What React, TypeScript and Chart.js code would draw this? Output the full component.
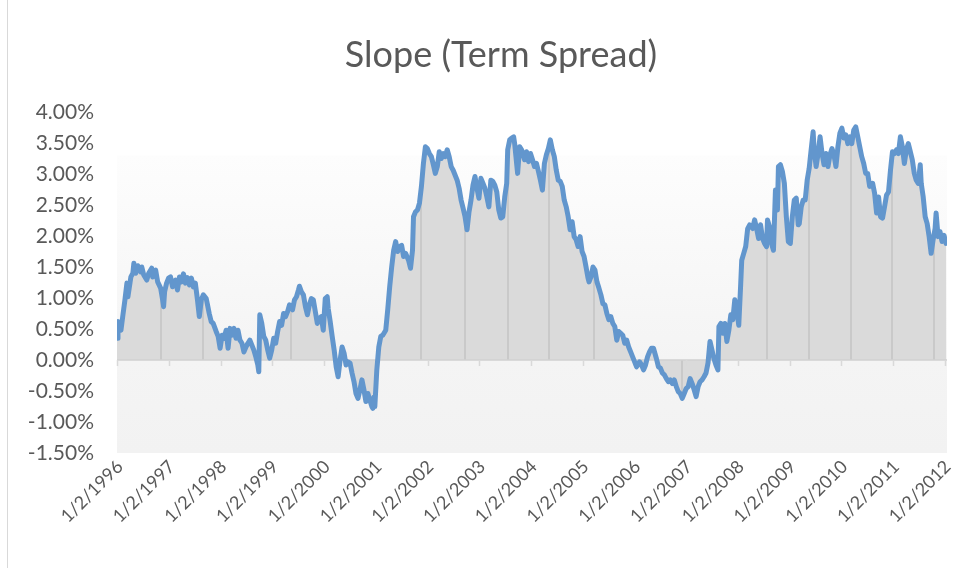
import React, { useEffect, useRef } from "react";
import { Chart, registerables } from "chart.js";

Chart.register(...registerables);

// Week offset from 1/2/1996 for each weekly observation
const weeks: number[] = [
  0, 1, 4, 6, 8, 10, 11, 14, 16, 17, 19, 21, 24, 25, 27, 30, 32, 35, 36, 39, 41, 44, 46, 47, 48, 50, 52, 54, 56,
  59, 61, 63, 65, 67, 69, 71, 73, 75, 77, 79, 81, 83, 85, 87, 90, 91, 93, 95, 97, 100, 102, 104, 106, 108, 110,
  112, 114, 116, 118, 120, 122, 124, 126, 128, 130, 132,
  134, 136, 138, 140, 142, 143, 144, 146, 148, 150, 152, 154, 156, 158, 160, 162, 164, 166, 168, 170, 172, 174,
  177, 179, 181, 183, 184, 186, 188, 190, 192, 194, 196, 198, 200, 202, 204, 206, 208, 210, 212, 213, 215, 217,
  219, 221, 223, 225, 227, 229, 231, 233, 235, 237, 239, 241, 243, 245, 247, 249, 251, 253, 255, 257, 258, 259,
  260, 262, 264, 266, 268,
  271, 273, 275, 277, 279, 281, 283, 285, 287, 289, 291, 294, 296, 298, 299, 301, 303, 305, 307, 309, 311, 313,
  315, 317, 319, 321, 323, 325, 327, 329, 331, 333, 335, 337, 339, 341, 343, 345, 347, 349, 351, 353, 355, 357,
  359, 361, 363, 365, 367, 369, 371, 373, 375, 377, 379, 381, 383, 385, 387, 389, 391, 393, 394, 396, 398, 400,
  401, 404, 406, 408, 411, 413, 415, 417, 419, 421, 423, 425, 427, 429, 431, 433, 435, 437, 439, 441, 443, 445,
  447, 449, 451, 453, 455, 457, 459, 461, 463, 465, 467, 469, 471, 473, 475, 476, 478, 480, 482, 484, 486, 488,
  490, 492, 494, 496, 498, 500, 502, 504, 506, 508, 510, 512, 514, 516, 518, 520, 522, 524, 527, 529, 531, 533,
  535, 537, 539, 541,
  544, 546, 548, 550, 552, 554, 556, 558, 560, 562, 564, 566, 568, 570, 572, 574, 576, 578, 580, 582, 584, 586,
  588, 590, 592, 594, 596, 598, 600, 602, 604, 606, 607, 609, 611, 613, 615, 617, 619, 621, 623, 625, 627, 629,
  630, 632, 634, 636, 638, 641, 643, 645, 647, 649, 651, 653, 655, 656, 658, 660, 662, 664, 666, 667, 669, 671,
  673, 675, 677, 679, 681, 683, 685, 687,
  688, 690, 692, 694, 696, 698, 700, 702, 703, 705, 707, 709, 711, 713, 715, 717, 719, 721, 723, 725, 727, 729,
  731, 733, 735, 737, 739, 741, 743, 745, 747, 749, 751, 753, 755, 757, 759, 762, 764, 766, 768, 770, 772, 774,
  776, 778, 780, 782, 784, 786, 788, 790, 792, 794, 796, 798, 800, 802, 804, 806, 808, 810, 811, 813, 815, 817,
  819, 821, 823, 825, 826, 828, 830, 832, 834, 836,
];

// Term spread in percent, one value per entry of `weeks`
const spread: number[] = [
  0.35, 0.62, 0.48, 0.73, 0.97, 1.24, 1.02, 1.34, 1.4, 1.56, 1.4, 1.52, 1.42, 1.5, 1.37, 1.29, 1.4, 1.48, 1.34,
  1.45, 1.26, 1.16, 0.97, 0.86, 1.1, 1.24, 1.32, 1.34, 1.18,
  1.29, 1.13, 1.34, 1.26, 1.39, 1.24, 1.33, 1.21, 1.32, 1.18, 1.24, 0.99, 0.7, 0.97, 1.05, 0.99, 0.91, 0.75,
  0.62, 0.59, 0.46, 0.38, 0.19, 0.4, 0.35, 0.48,
  0.19, 0.51, 0.4, 0.51, 0.35, 0.48, 0.32, 0.27, 0.13, 0.21, 0.27,
  0.32, 0.24, 0.16, 0.05, -0.08, -0.19, 0.73, 0.59, 0.38, 0.32, 0.16, 0.03, 0.16, 0.35, 0.27, 0.46, 0.62, 0.56,
  0.75, 0.7, 0.78, 0.89,
  0.81, 0.97, 1.02, 1.13, 1.19, 1.1, 1.05, 0.86, 0.73, 0.89, 0.99, 0.97, 0.78, 0.59, 0.67, 0.7, 0.48, 0.99,
  1.02, 0.83, 0.62, 0.38,
  0.16, -0.11, -0.27, 0.0, 0.21, 0.11, -0.08, -0.03, -0.05, -0.21, -0.35, -0.54, -0.62, -0.48, -0.32, -0.48,
  -0.67, -0.54, -0.65, -0.75, -0.78, -0.6,
  -0.75, -0.16, 0.21, 0.38, 0.4,
  0.48, 0.81, 1.18, 1.5, 1.77, 1.91, 1.75, 1.83, 1.85, 1.67, 1.72, 1.61, 1.48, 1.77, 2.31, 2.39, 2.42, 2.53,
  2.8, 3.17, 3.44, 3.41,
  3.33, 3.28, 3.15, 3.01, 3.12, 3.36, 3.25, 3.33, 3.28, 3.39, 3.28, 3.12, 3.06, 2.98, 2.9, 2.77, 2.58, 2.45,
  2.31, 2.1, 2.39, 2.58,
  2.82, 2.96, 2.77, 2.61, 2.93, 2.85, 2.77, 2.63, 2.47, 2.9, 2.88, 2.82, 2.71, 2.42, 2.29, 2.31, 2.63, 2.85,
  3.39, 3.55, 3.58, 3.6,
  3.49, 3.01, 3.44, 3.39, 3.23, 3.36, 3.2, 3.33, 3.23, 3.12, 3.17, 3.04, 2.9, 2.74, 3.17, 3.31, 3.41, 3.55,
  3.39, 3.28, 3.06, 2.9,
  2.88, 2.8, 2.58, 2.47, 2.31, 2.1, 2.23, 1.99, 1.94, 1.83, 1.99, 1.75, 1.67, 1.5, 1.32, 1.26, 1.34, 1.5, 1.45,
  1.26, 1.16, 1.05,
  0.91, 0.89, 0.75, 0.65, 0.7, 0.59, 0.54, 0.32, 0.46, 0.43, 0.4, 0.27, 0.32, 0.21, 0.13, 0.05, -0.03, -0.11,
  -0.03, -0.08, -0.16, -0.08,
  0.05, 0.13, 0.19, 0.19,
  0.02, -0.11, -0.13, -0.21, -0.24, -0.3, -0.35, -0.32, -0.38, -0.32, -0.43, -0.51, -0.54, -0.62, -0.54, -0.46,
  -0.43, -0.3, -0.38, -0.48, -0.59, -0.43,
  -0.35, -0.32, -0.27, -0.21, -0.05, 0.3, 0.16, 0.02, -0.08, -0.16, 0.54, 0.59, 0.43, 0.59, 0.3, 0.48, 0.73,
  0.65, 0.97, 0.81, 0.56, 1.24,
  1.61, 1.72, 1.83, 2.12, 2.18, 2.12, 2.26, 2.12, 1.96, 2.18, 1.96, 1.88, 1.83, 2.26, 2.15, 1.88, 1.77, 2.74,
  2.42, 3.12, 3.15, 3.04,
  2.85, 2.31, 1.91, 1.88, 2.31, 2.58, 2.61, 2.18,
  2.2, 2.47, 2.58, 2.58, 2.9, 3.09, 3.39, 3.68, 3.39, 3.12, 3.33, 3.6, 3.33, 3.15, 3.33, 3.12, 3.31, 3.41, 3.31,
  3.12, 3.44, 3.66,
  3.74, 3.58, 3.63, 3.49, 3.6, 3.49, 3.71, 3.76, 3.6, 3.44, 3.28, 3.17, 3.01, 3.01, 2.8, 2.85, 2.69, 2.37, 2.63,
  2.31, 2.29, 2.47,
  2.66, 2.71, 3.06, 3.36, 3.33, 3.39, 3.33, 3.6, 3.44, 3.17, 3.39, 3.49, 3.36, 3.23, 3.01, 2.9, 2.85, 3.15,
  2.85, 2.63, 2.31, 2.2,
  1.99, 1.72, 1.94, 2.12, 2.37, 1.99, 2.07, 1.91, 2.01, 1.88,
];

// Category-axis labels (one per year)
const tickYears: number[] = [
  1996, 1997, 1998, 1999, 2000, 2001, 2002, 2003, 2004, 2005, 2006, 2007, 2008, 2009, 2010, 2011, 2012,
];

// Weeks where the area fill shows a darker seam
const seamWeeks: number[] = [44, 87, 175, 307, 351, 394, 436, 481, 570, 655, 698, 740, 782, 824];

const TITLE = "Slope (Term Spread)";
const FONT = "Lato, 'Open Sans', 'DejaVu Sans', sans-serif";
const TEXT_COLOR = "#595959";

const WEEK_MS = 7 * 86400000;
const yearWeek = (yr: number) => (Date.UTC(yr, 0, 2) - Date.UTC(1996, 0, 2)) / WEEK_MS;

function valueAt(w: number): number {
  for (let i = 1; i < weeks.length; i++) {
    if (weeks[i] >= w) {
      const t = (w - weeks[i - 1]) / (weeks[i] - weeks[i - 1]);
      return spread[i - 1] + t * (spread[i] - spread[i - 1]);
    }
  }
  return spread[spread.length - 1];
}

const decorPlugin = {
  id: "excelDecor",
  beforeDatasetsDraw(chart: any) {
    const { ctx, chartArea } = chart;
    const y = chart.scales.y;
    const top = y.getPixelForValue(3.3);
    const zero = y.getPixelForValue(0);
    const bottom = y.getPixelForValue(y.min);
    const g = ctx.createLinearGradient(0, top, 0, bottom);
    g.addColorStop(0, "#fdfdfd");
    g.addColorStop((zero - top) / (bottom - top), "#f4f4f4");
    g.addColorStop(1, "#f2f2f2");
    ctx.save();
    ctx.fillStyle = g;
    ctx.fillRect(chartArea.left, top, chartArea.right - chartArea.left, bottom - top);
    ctx.restore();
  },
  afterDatasetDraw(chart: any, args: any) {
    if (args.index !== 1) return;
    const { ctx, chartArea } = chart;
    const x = chart.scales.x;
    const y = chart.scales.y;
    const zero = y.getPixelForValue(0);
    ctx.save();
    ctx.strokeStyle = "#c9c9c9";
    ctx.lineWidth = 2;
    for (const w of seamWeeks) {
      const px = Math.round(x.getPixelForValue(w));
      const v = valueAt(w);
      ctx.beginPath();
      ctx.moveTo(px, zero);
      ctx.lineTo(px, y.getPixelForValue(v));
      ctx.stroke();
    }
    ctx.strokeStyle = "#d0d0d0";
    ctx.lineWidth = 1.5;
    ctx.beginPath();
    ctx.moveTo(chartArea.left, zero);
    ctx.lineTo(chartArea.right, zero);
    ctx.stroke();
    ctx.strokeStyle = "#d9d9d9";
    for (const yr of tickYears) {
      const px = Math.round(x.getPixelForValue(yearWeek(yr))) + 0.5;
      ctx.beginPath();
      ctx.moveTo(px, zero);
      ctx.lineTo(px, zero + 6);
      ctx.stroke();
    }
    ctx.restore();
  },
  afterDraw(chart: any) {
    const { ctx } = chart;
    ctx.save();
    ctx.fillStyle = TEXT_COLOR;
    ctx.font = `36px ${FONT}`;
    ctx.textAlign = "center";
    ctx.textBaseline = "middle";
    ctx.fillText(TITLE, 501, 55);
    ctx.restore();
  },
};

export default function App() {
  const ref = useRef<HTMLCanvasElement | null>(null);

  useEffect(() => {
    if (!ref.current) return;
    const points = weeks.map((w, i) => ({ x: w, y: spread[i] }));
    const chart = new Chart(ref.current, {
      type: "line",
      data: {
        datasets: [
          {
            label: "Slope",
            data: points,
            borderColor: "rgb(98,150,205)",
            borderWidth: 5,
            pointRadius: 0,
            fill: false,
            tension: 0,
            borderJoinStyle: "round",
            borderCapStyle: "round",
          },
          {
            label: "Area",
            data: points,
            borderWidth: 0,
            borderColor: "rgba(0,0,0,0)",
            backgroundColor: "#dadada",
            pointRadius: 0,
            fill: "origin",
            tension: 0,
          },
        ],
      },
      options: {
        responsive: false,
        animation: false,
        layout: { padding: { left: 0, right: 32, top: 112, bottom: 0 } },
        plugins: {
          legend: { display: false },
          tooltip: { enabled: false },
          title: { display: false },
        },
        scales: {
          x: {
            type: "linear",
            min: 0,
            max: 837,
            afterBuildTicks: (scale: any) => {
              scale.ticks = tickYears.map((yr) => ({ value: yearWeek(yr) }));
            },
            afterFit: (scale: any) => {
              scale.height = 115;
            },
            grid: { display: false, drawTicks: false },
            border: { display: false },
            ticks: {
              autoSkip: false,
              minRotation: 45,
              maxRotation: 45,
              padding: 3,
              labelOffset: 3,
              color: TEXT_COLOR,
              font: { family: FONT, size: 18 },
              callback: (_v: any, i: number) => `1/2/${tickYears[i]}`,
            },
          },
          y: {
            min: -1.5,
            max: 4,
            afterFit: (scale: any) => {
              scale.width = 117;
            },
            grid: { display: false, drawTicks: false },
            border: { display: false },
            ticks: {
              stepSize: 0.5,
              padding: 23,
              color: TEXT_COLOR,
              font: { family: FONT, size: 21 },
              callback: (v: any) => `${Number(v).toFixed(2)}%`,
            },
          },
        },
      },
      plugins: [decorPlugin],
    });
    return () => chart.destroy();
  }, []);

  return (
    <div style={{ position: "absolute", left: 0, top: 0, width: 979, height: 568, background: "#fff" }}>
      <div style={{ position: "absolute", left: 7, top: 0, width: 1, height: 568, background: "#d9d9d9" }} />
      <canvas ref={ref} width={979} height={568} style={{ position: "absolute", left: 0, top: 0 }} />
    </div>
  );
}
